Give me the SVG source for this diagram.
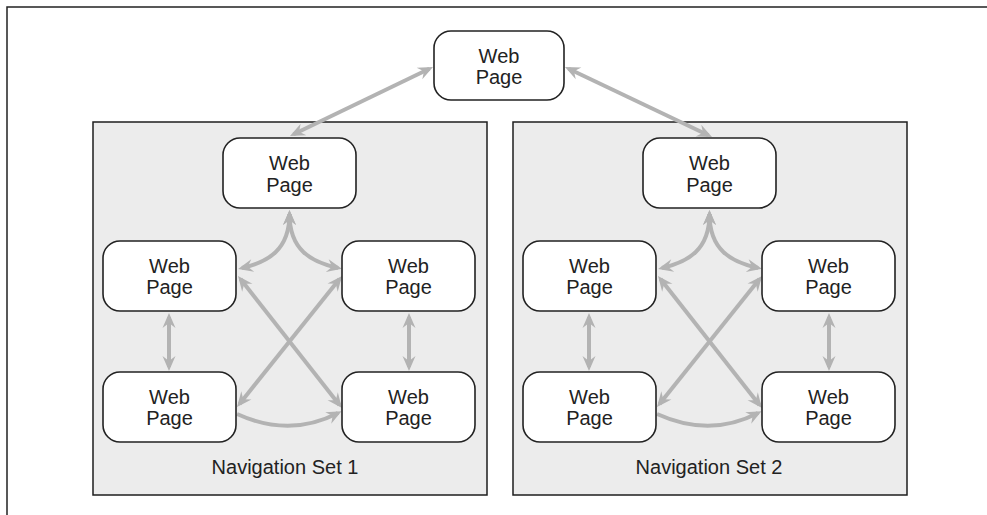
<svg xmlns="http://www.w3.org/2000/svg" width="987" height="515" viewBox="0 0 987 515">
<defs>
<style>
.frame{fill:none;stroke:#222;stroke-width:1.5}
.panel{fill:#ececec;stroke:#1e1e1e;stroke-width:1.5}
.node{fill:#fff;stroke:#222;stroke-width:1.6}
.t{font-family:"Liberation Sans",Arial,Helvetica,sans-serif;font-size:20px;fill:#222;text-anchor:middle}
.c{fill:none;stroke:#b3b3b3;stroke-width:4}
.ab{marker-start:url(#ah);marker-end:url(#ah)}
.ae{marker-end:url(#ah)}
</style>
<marker id="ah" markerUnits="userSpaceOnUse" markerWidth="20" markerHeight="16" refX="-4" refY="0" viewBox="-16 -8 20 16" orient="auto-start-reverse" overflow="visible">
<path d="M0,0 L-15,-6.5 L-10,0 L-15,6.5 Z" fill="#b3b3b3"/>
</marker>
</defs>
<rect width="987" height="515" fill="#fff"/>
<path class="frame" d="M7,515 L7,7 L987,7"/>
<g id="set1">
<rect class="panel" x="93" y="122" width="394" height="373"/>
<text class="t" x="285" y="474">Navigation Set 1</text>
</g>
<g id="set2">
<rect class="panel" x="513" y="122" width="394" height="373"/>
<text class="t" x="709" y="474">Navigation Set 2</text>
</g>
<g id="connectors">
<path class="c ab" d="M429.4,68.7 L293.6,134.3"/>
<path class="c ab" d="M568.6,68.7 L708.4,135.3"/>
<path class="c ab" d="M289.5,214 C289.5,250 268,262 242,268"/>
<path class="c ab" d="M289.5,214 C289.5,250 311,262 338,268"/>
<path class="c ab" d="M169,317 L169,367"/>
<path class="c ab" d="M409,317 L409,367"/>
<path class="c ab" d="M240.5,279.1 L339.5,404.9"/>
<path class="c ab" d="M339.5,279.1 L239.5,403.9"/>
<path class="c ae" d="M237,414 Q290,438 338,413"/>
<path class="c ab" d="M709.5,214 C709.5,250 688,262 662,268"/>
<path class="c ab" d="M709.5,214 C709.5,250 731,262 758,268"/>
<path class="c ab" d="M589,317 L589,367"/>
<path class="c ab" d="M829,317 L829,367"/>
<path class="c ab" d="M660.5,279.1 L759.5,404.9"/>
<path class="c ab" d="M759.5,279.1 L659.5,403.9"/>
<path class="c ae" d="M657,414 Q710,438 758,413"/>
</g>
<g id="top">
<rect class="node" x="434" y="31" width="130" height="69" rx="17"/>
<text class="t" x="499" y="62.5">Web</text><text class="t" x="499" y="84">Page</text>
</g>
<g id="s1_top">
<rect class="node" x="223" y="138" width="133" height="70" rx="17"/>
<text class="t" x="289.5" y="170">Web</text><text class="t" x="289.5" y="191.5">Page</text>
</g>
<g id="s1_left">
<rect class="node" x="103" y="241" width="133" height="70" rx="17"/>
<text class="t" x="169.5" y="272.5">Web</text><text class="t" x="169.5" y="294">Page</text>
</g>
<g id="s1_right">
<rect class="node" x="342" y="241" width="133" height="70" rx="17"/>
<text class="t" x="408.5" y="272.5">Web</text><text class="t" x="408.5" y="294">Page</text>
</g>
<g id="s1_bl">
<rect class="node" x="103" y="372" width="133" height="70" rx="17"/>
<text class="t" x="169.5" y="403.5">Web</text><text class="t" x="169.5" y="425">Page</text>
</g>
<g id="s1_br">
<rect class="node" x="342" y="372" width="133" height="70" rx="17"/>
<text class="t" x="408.5" y="403.5">Web</text><text class="t" x="408.5" y="425">Page</text>
</g>
<g id="s2_top">
<rect class="node" x="643" y="138" width="133" height="70" rx="17"/>
<text class="t" x="709.5" y="170">Web</text><text class="t" x="709.5" y="191.5">Page</text>
</g>
<g id="s2_left">
<rect class="node" x="523" y="241" width="133" height="70" rx="17"/>
<text class="t" x="589.5" y="272.5">Web</text><text class="t" x="589.5" y="294">Page</text>
</g>
<g id="s2_right">
<rect class="node" x="762" y="241" width="133" height="70" rx="17"/>
<text class="t" x="828.5" y="272.5">Web</text><text class="t" x="828.5" y="294">Page</text>
</g>
<g id="s2_bl">
<rect class="node" x="523" y="372" width="133" height="70" rx="17"/>
<text class="t" x="589.5" y="403.5">Web</text><text class="t" x="589.5" y="425">Page</text>
</g>
<g id="s2_br">
<rect class="node" x="762" y="372" width="133" height="70" rx="17"/>
<text class="t" x="828.5" y="403.5">Web</text><text class="t" x="828.5" y="425">Page</text>
</g>
</svg>
